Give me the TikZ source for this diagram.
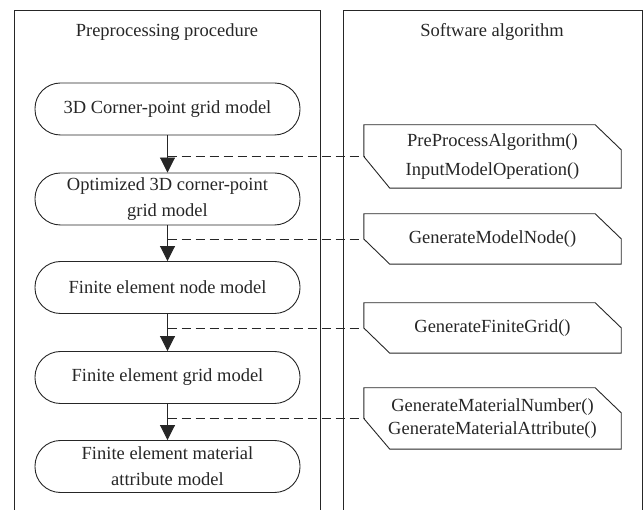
\documentclass[tikz,border=0pt]{standalone}
\usepackage{fontspec}
\setmainfont{Liberation Serif}
\usetikzlibrary{arrows.meta}
\definecolor{ink}{HTML}{262626}
\begin{document}
\begin{tikzpicture}[x=1pt,y=-1pt,
  every node/.style={font=\fontsize{18.5}{26}\selectfont, text=ink},
  panel/.style={draw=ink, line width=1pt},
  stage/.style={draw=ink, line width=0.9pt, rounded corners=25.5pt,
    minimum width=265pt, minimum height=52pt, align=center, inner sep=0pt},
  algo/.style={minimum width=257pt, align=center, inner sep=0pt},
  algoline/.style={draw=ink, line width=0.9pt},
  flow/.style={draw=ink, line width=0.9pt, -{Triangle[width=15pt,length=15pt]}},
  link/.style={draw=ink, line width=0.9pt, dash pattern=on 9pt off 5pt}
]
\useasboundingbox (0,0) rectangle (643,510);

% two swim-lane panels, open at the bottom
\draw[panel] (14,510) -- (14,11) -- (320,11) -- (320,510);
\draw[panel] (343,510) -- (343,11) -- (642,11) -- (642,510);
\node (t1) at (167,32) {Preprocessing procedure};
\node (t2) at (492,32) {Software algorithm};

% processing stages
\node[stage] (n1) at (167.5,109)   {3D Corner-point grid model};
\node[stage] (n2) at (167.5,199)   {Optimized 3D corner-point\\grid model};
\node[stage] (n3) at (167.5,287.5) {Finite element node model};
\node[stage] (n4) at (167.5,377.5) {Finite element grid model};
\node[stage] (n5) at (167.5,466.5) {Finite element material\\attribute model};

\draw[flow] (n1) -- (n2);
\draw[flow] (n2) -- (n3);
\draw[flow] (n3) -- (n4);
\draw[flow] (n4) -- (n5);

% algorithm calls
\node[algo, minimum height=63pt, font=\fontsize{18.5}{29}\selectfont] (s1) at (492.5,156.5)
  {PreProcessAlgorithm()\\InputModelOperation()};
\node[algo, minimum height=50pt] (s2) at (492.5,239) {GenerateModelNode()};
\node[algo, minimum height=50pt] (s3) at (492.5,328) {GenerateFiniteGrid()};
\node[algo, minimum height=61pt, font=\fontsize{18.5}{23}\selectfont] (s4) at (492.5,418.5)
  {GenerateMaterialNumber()\\GenerateMaterialAttribute()};

% outline with cut top-right and bottom-left corners
\foreach \s in {s1,s2,s3,s4}{
  \draw[algoline] (\s.west) -- (\s.north west) -- ([xshift=-26pt]\s.north east)
    -- ([yshift=-25pt]\s.north east) -- (\s.south east)
    -- ([xshift=26pt]\s.south west) -- cycle;
}

% links between stages and calls
\draw[link] (n1 |- s1.west) -- (s1.west);
\draw[link] (n2 |- s2.west) -- (s2.west);
\draw[link] (n3 |- s3.west) -- (s3.west);
\draw[link] (n4 |- s4.west) -- (s4.west);
\end{tikzpicture}
\end{document}
